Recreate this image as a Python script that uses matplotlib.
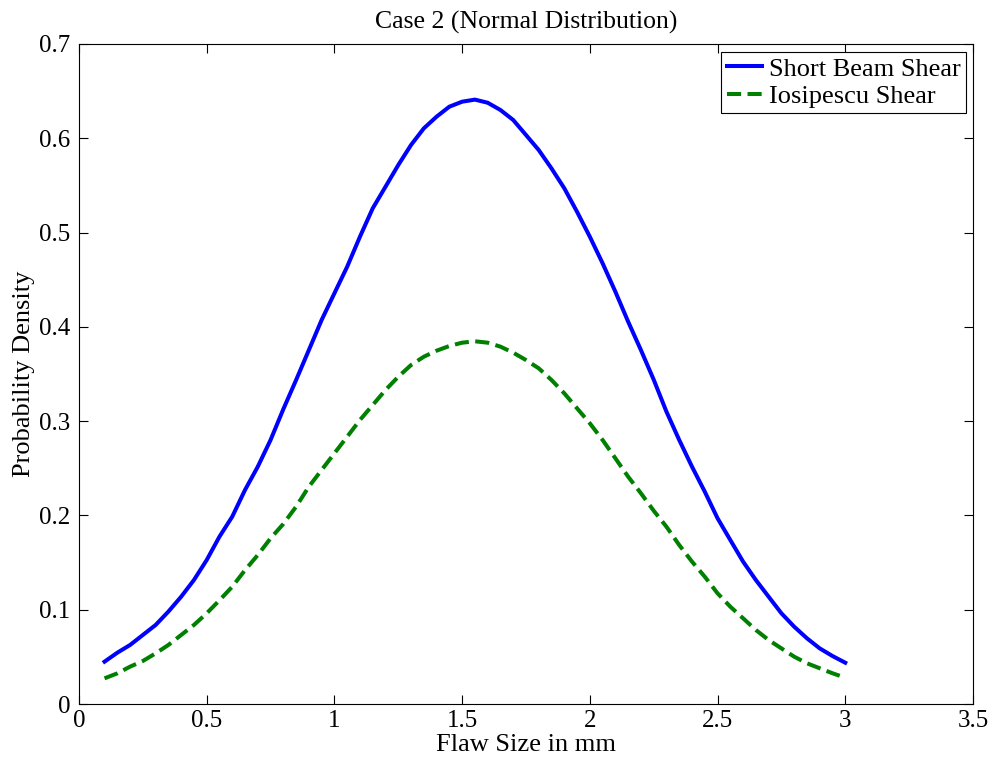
import matplotlib
matplotlib.use("Agg")
from matplotlib import pyplot as plt

# Flaw size (mm) and the two density curves
flaw_size = [0.10, 0.15, 0.20, 0.25, 0.30, 0.35, 0.40, 0.45, 0.50, 0.55,
             0.60, 0.65, 0.70, 0.75, 0.80, 0.85, 0.90, 0.95, 1.00, 1.05,
             1.10, 1.15, 1.20, 1.25, 1.30, 1.35, 1.40, 1.45, 1.50, 1.55,
             1.60, 1.65, 1.70, 1.75, 1.80, 1.85, 1.90, 1.95, 2.00, 2.05,
             2.10, 2.15, 2.20, 2.25, 2.30, 2.35, 2.40, 2.45, 2.50, 2.55,
             2.60, 2.65, 2.70, 2.75, 2.80, 2.85, 2.90, 2.95, 3.00]
short_beam = [0.0449, 0.0544, 0.0626, 0.0732, 0.0838, 0.0980, 0.1138, 0.1315, 0.1527, 0.1775,
              0.1987, 0.2270, 0.2517, 0.2800, 0.3127, 0.3436, 0.3754, 0.4073, 0.4356, 0.4638,
              0.4956, 0.5257, 0.5486, 0.5716, 0.5929, 0.6105, 0.6229, 0.6335, 0.6388, 0.6410,
              0.6377, 0.6300, 0.6194, 0.6035, 0.5875, 0.5680, 0.5470, 0.5220, 0.4956, 0.4674,
              0.4373, 0.4055, 0.3754, 0.3440, 0.3100, 0.2800, 0.2517, 0.2252, 0.1970, 0.1739,
              0.1510, 0.1315, 0.1138, 0.0962, 0.0820, 0.0697, 0.0590, 0.0509, 0.0438]
iosipescu = [0.0272, 0.0325, 0.0396, 0.0456, 0.0537, 0.0626, 0.0732, 0.0838, 0.0962, 0.1100,
             0.1244, 0.1420, 0.1580, 0.1757, 0.1910, 0.2093, 0.2305, 0.2482, 0.2659, 0.2835,
             0.3012, 0.3171, 0.3330, 0.3471, 0.3595, 0.3683, 0.3747, 0.3797, 0.3832, 0.3847,
             0.3832, 0.3790, 0.3726, 0.3648, 0.3560, 0.3436, 0.3295, 0.3136, 0.2977, 0.2800,
             0.2606, 0.2411, 0.2235, 0.2050, 0.1880, 0.1686, 0.1510, 0.1350, 0.1174, 0.1032,
             0.0909, 0.0785, 0.0679, 0.0590, 0.0502, 0.0432, 0.0379, 0.0326, 0.0279]

x_ticks = [0, 0.5, 1, 1.5, 2, 2.5, 3, 3.5]
x_labels = ['0', '0.5', '1', '1.5', '2', '2.5', '3', '3.5']
y_ticks = [0, 0.1, 0.2, 0.3, 0.4, 0.5, 0.6, 0.7]
y_labels = ['0', '0.1', '0.2', '0.3', '0.4', '0.5', '0.6', '0.7']

plt.rcParams['font.family'] = ['Liberation Serif', 'DejaVu Serif']
plt.rcParams['font.size'] = 18

fig = plt.figure(figsize=(9.91, 7.61), dpi=100)
ax = fig.add_axes([0.0797, 0.0749, 0.9021, 0.8673])

ax.plot(flaw_size, short_beam, color=(0, 0, 1), linewidth=2.9, label='Short Beam Shear')
ax.plot(flaw_size, iosipescu, color=(0, 0.5, 0), linewidth=2.9, linestyle=(0, (3.5, 1.6)),
        label='Iosipescu Shear')

ax.set_xlim(0, 3.5)
ax.set_ylim(0, 0.7)
ax.set_xticks(x_ticks)
ax.set_xticklabels(x_labels)
ax.set_yticks(y_ticks)
ax.set_yticklabels(y_labels)
ax.tick_params(direction='in', length=6.5, width=0.8, top=True, right=True)
ax.tick_params(axis='x', pad=4)
ax.tick_params(axis='y', pad=6)
for s in ax.spines.values():
    s.set_linewidth(0.8)

ax.set_title('Case 2 (Normal Distribution)', fontsize=18.5, pad=11)
ax.set_xlabel('Flaw Size in mm', fontsize=19, labelpad=2)
ax.set_ylabel('Probability Density', fontsize=19, labelpad=3)

leg = ax.legend(loc='upper right', bbox_to_anchor=(0.992, 0.988), borderaxespad=0,
                fancybox=False, edgecolor='black', framealpha=1,
                handlelength=1.35, handletextpad=0.25, labelspacing=0.15,
                borderpad=0.2, fontsize=19)
leg.get_frame().set_linewidth(0.8)

fig.savefig('out.png', dpi=100)
